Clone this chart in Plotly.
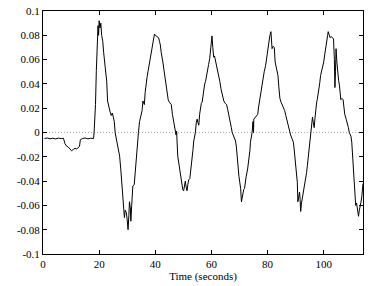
import plotly.graph_objects as go

time_s = [0.5,1.5,2.5,3.5,4.5,5.5,6.5,7.3,7.8,8.3,9,9.6,10.2,10.8,11.4,12,12.6,13.0,13.3,14,15,16,17,18,
 18.2,18.7,19.0,19.3,19.6,19.8,20.0,20.3,20.6,20.9,21.3,21.6,22.0,22.4,22.7,23.0,23.5,23.9,24.3,24.7,25.1,25.4,25.7,
 26.0,26.3,26.8,27.3,27.7,28.1,28.4,28.7,29.0,29.3,29.7,30.0,30.3,30.6,30.8,31.1,31.3,31.6,32.0,32.5,32.9,33.2,33.5,33.8,
 34.0,34.4,34.9,35.3,35.6,36.1,36.4,36.7,37.1,37.4,37.8,38.2,38.5,38.8,39.1,39.4,39.7,40.0,40.5,41.0,41.2,41.5,41.8,
 42.1,42.4,42.7,43.0,43.5,44.0,44.2,44.6,45.0,45.4,45.7,46.1,46.5,46.8,47.1,47.4,47.6,47.7,47.8,48.0,48.5,48.9,49.2,
 49.5,49.8,50.1,50.4,50.7,51.0,51.3,51.6,51.9,52.3,52.7,53.1,53.4,53.7,54.0,54.3,54.6,54.9,55.2,55.5,55.8,56.1,56.4,
 56.7,57.0,57.3,57.6,57.9,58.2,58.5,59.0,59.4,59.7,60.0,60.2,60.5,60.8,61.1,61.3,61.8,62.3,62.6,63.0,63.4,63.8,64.1,
 64.4,64.9,65.4,65.8,66.2,66.5,66.8,67.1,67.4,67.8,68.2,68.6,68.9,69.2,69.5,69.8,70.1,70.4,70.7,71.0,71.2,71.5,71.8,
 72.1,72.4,72.9,73.4,73.7,73.9,74.2,74.5,74.8,75.0,75.1,75.4,75.7,76.1,76.5,76.8,77.1,77.4,77.7,78.0,78.3,78.8,79.3,
 79.7,80.1,80.5,80.8,81.2,81.4,81.6,82.0,82.4,82.7,83.2,83.7,84.0,84.4,84.8,85.2,85.6,86.1,86.5,86.8,87.2,87.6,88.2,
 88.7,89.2,89.4,89.7,90.0,90.3,90.6,90.8,91.1,91.4,91.6,91.8,92.1,92.4,92.8,93.2,93.5,93.9,94.2,94.5,94.8,95.1,95.4,
 95.6,95.8,96.0,96.3,96.6,96.9,97.2,97.5,97.7,98.0,98.3,98.6,98.9,99.3,99.7,100.0,100.3,100.7,101.1,101.4,101.6,101.9,
 102.3,102.7,103.2,103.5,103.8,104.0,104.2,104.4,104.7,105.0,105.3,105.6,105.9,106.1,106.5,106.9,107.2,107.5,108.0,
 108.5,108.8,109.1,109.4,109.7,110.0,110.2,110.5,110.8,111.1,111.4,111.7,112.0,112.2,112.4,112.7,113.0,113.3,113.6,113.9,114.0]

signal = [-0.005,-0.0045,-0.0052,-0.0047,-0.0053,-0.0046,-0.005,-0.0048,-0.009,-0.011,-0.012,-0.014,-0.015,-0.014,-0.013,-0.0135,-0.012,-0.0115,-0.006,-0.005,-0.0045,-0.0052,-0.0047,-0.005,
 0,0.023,0.051,0.07,0.088,0.08,0.092,0.086,0.09,0.08,0.075,0.066,0.058,0.047,0.042,0.026,0.02,0.017,0.014,0.016,0.012,0.009,0,
 -0.004,-0.009,-0.015,-0.0195,-0.03,-0.044,-0.055,-0.065,-0.07,-0.064,-0.066,-0.072,-0.080,-0.068,-0.057,-0.062,-0.073,-0.06,-0.044,-0.043,-0.03,-0.0195,-0.012,-0.005,
 0,0.009,0.014,0.018,0.026,0.023,0.033,0.042,0.046,0.050,0.055,0.061,0.066,0.069,0.074,0.078,0.081,0.080,0.079,0.0785,0.078,0.075,0.072,
 0.066,0.063,0.058,0.053,0.045,0.037,0.034,0.027,0.025,0.024,0.023,0.015,0.0086,0.004,0,-0.002,0.001,-0.012,-0.003,-0.0195,-0.027,-0.033,-0.04,
 -0.042,-0.047,-0.048,-0.044,-0.040,-0.045,-0.048,-0.043,-0.039,-0.038,-0.03,-0.025,-0.015,-0.007,-0.004,0,0.008,0.011,0.008,0.006,0.015,0.021,0.024,
 0.025,0.032,0.037,0.04,0.042,0.047,0.050,0.056,0.061,0.068,0.075,0.0795,0.07,0.062,0.063,0.061,0.056,0.051,0.046,0.042,0.036,0.031,0.028,
 0.026,0.024,0.023,0.019,0.015,0.011,0.0075,0.004,0,-0.002,-0.004,-0.007,-0.012,-0.022,-0.03,-0.036,-0.041,-0.046,-0.057,-0.052,-0.049,-0.047,-0.046,
 -0.04,-0.036,-0.03,-0.022,-0.015,-0.008,-0.004,0,0.009,0.0,0.011,0.012,0.012,0.014,0.015,0.021,0.026,0.031,0.035,0.04,0.044,0.05,0.055,
 0.062,0.069,0.075,0.0795,0.083,0.075,0.069,0.071,0.070,0.058,0.053,0.047,0.038,0.028,0.025,0.023,0.021,0.018,0.014,0.011,0.007,0.003,-0.002,
 -0.005,-0.008,-0.012,-0.018,-0.025,-0.033,-0.041,-0.057,-0.052,-0.049,-0.055,-0.065,-0.058,-0.054,-0.05,-0.046,-0.04,-0.033,-0.027,-0.020,-0.014,-0.008,-0.003,
 0.001,0.008,0.0126,0.008,0.004,0.012,0.021,0.025,0.027,0.031,0.035,0.041,0.047,0.051,0.054,0.058,0.063,0.068,0.074,0.08,0.083,0.081,
 0.078,0.079,0.078,0.077,0.06,0.037,0.05,0.069,0.058,0.047,0.043,0.039,0.032,0.027,0.028,0.027,0.021,0.015,0.011,
 0.0075,0.004,0,-0.002,-0.003,-0.008,-0.015,-0.025,-0.034,-0.044,-0.060,-0.058,-0.062,-0.066,-0.069,-0.064,-0.061,-0.057,-0.052,-0.046,-0.042]

x_ticks = [0, 20, 40, 60, 80, 100]
y_ticks = [-0.1, -0.08, -0.06, -0.04, -0.02, 0, 0.02, 0.04, 0.06, 0.08, 0.1]
y_tick_text = ["-0.1", "-0.08", "-0.06", "-0.04", "-0.02", "0", "0.02", "0.04", "0.06", "0.08", "0.1"]

FONT = "Times New Roman"

fig = go.Figure()
fig.add_trace(go.Scatter(x=time_s, y=signal, mode="lines",
                         line=dict(color="black", width=1), showlegend=False, hoverinfo="skip"))
fig.add_shape(type="line", xref="paper", x0=0, x1=1, yref="y", y0=0, y1=0,
              line=dict(color="#999999", width=0.8, dash="1px,2px"), layer="below")

axis_common = dict(showgrid=False, zeroline=False, showline=True, linecolor="black", linewidth=1,
                   mirror="ticks", ticks="inside", ticklen=4, tickcolor="black", tickwidth=1,
                   ticklabeloverflow="allow", tickfont=dict(family=FONT, size=11, color="black"))

fig.update_layout(
    width=369, height=286,
    margin=dict(l=43, r=6, t=5, b=32),
    paper_bgcolor="white", plot_bgcolor="white",
    font=dict(family=FONT, size=11, color="black"),
    xaxis=dict(range=[0, 114], tickvals=x_ticks, ticktext=[str(v) for v in x_ticks],
               title=dict(text="Time (seconds)", standoff=1, font=dict(family=FONT, size=11)),
               **axis_common),
    yaxis=dict(range=[-0.1, 0.1], tickvals=y_ticks, ticktext=y_tick_text, **axis_common),
)

fig.write_html("out.html")
